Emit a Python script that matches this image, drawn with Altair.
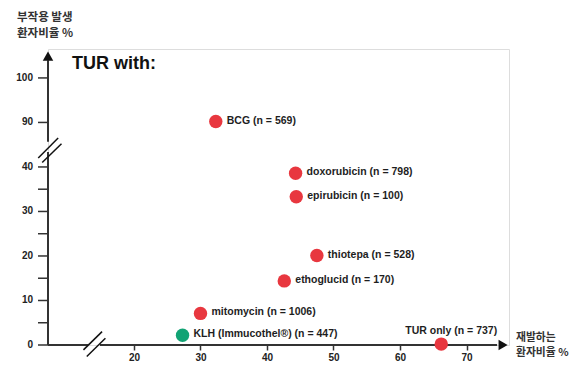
import altair as alt
import pandas as pd

# ---- data ----
treatments = [
    "BCG (n = 569)",
    "doxorubicin (n = 798)",
    "epirubicin (n = 100)",
    "thiotepa (n = 528)",
    "ethoglucid (n = 170)",
    "mitomycin (n = 1006)",
    "KLH (Immucothel®) (n = 447)",
    "TUR only (n = 737)",
]
recurrence_pct = [32.3, 44.3, 44.4, 47.5, 42.6, 30.0, 27.3, 66.2]
adverse_pct = [90.2, 38.6, 33.3, 20.1, 14.4, 7.1, 2.2, 0.2]
groups = ["other", "other", "other", "other", "other", "other", "KLH", "TUR only"]

x_ticks = [20, 30, 40, 50, 60, 70]
y_ticks = [0, 5, 10, 15, 20, 25, 30, 35, 40, 90, 100]
y_tick_labels = ["0", "", "10", "", "20", "", "30", "", "40", "90", "100"]
Y_GAP = 40  # broken y axis: values >= 90 are shifted down by this amount

# ---- scales ----
X_MIN, X_MAX = 7.07, 76.39
Y_MIN, Y_MAX = 0.0, 66.5
W, H = 461, 296

def disp_y(v):
    return v - Y_GAP if v >= 90 else v

df = pd.DataFrame({
    "treatment": treatments,
    "x": recurrence_pct,
    "y": [disp_y(v) for v in adverse_pct],
    "adverse": adverse_pct,
    "group": groups,
})
ytick_df = pd.DataFrame({
    "value": y_ticks,
    "y": [disp_y(v) for v in y_ticks],
    "label": y_tick_labels,
})

xs = alt.Scale(domain=[X_MIN, X_MAX], nice=False, zero=False)
ys = alt.Scale(domain=[Y_MIN, Y_MAX], nice=False, zero=False)

AX = "#333333"
FONT = "Liberation Sans"
KFONT = "Noto Sans CJK KR"

x_axis = alt.Axis(values=x_ticks, domain=False, grid=False, tickSize=5, tickColor=AX,
                  tickWidth=1.5, labelFont=FONT, labelFontWeight="bold", labelFontSize=10,
                  labelColor="#222222", labelPadding=2, labelOverlap=False, title=None)

# axis lines with breaks
axis_lines = pd.DataFrame({
    "x": [X_MIN, 14.89, X_MIN, X_MIN],
    "x2": [13.08, 74.6, X_MIN, X_MIN],
    "y": [0, 0, 0, 45.69],
    "y2": [0, 0, 43.37, 64.0],
})
lines = alt.Chart(axis_lines).mark_rule(color=AX, strokeWidth=2).encode(
    x=alt.X("x:Q", scale=xs, axis=x_axis), x2="x2",
    y=alt.Y("y:Q", scale=ys, axis=None), y2="y2"
)

# y ticks and labels
yticks = alt.Chart(ytick_df).mark_rule(color=AX, strokeWidth=1.5).encode(
    x=alt.value(-10), x2=alt.value(0), y=alt.Y("y:Q", scale=ys)
)
ylabels = alt.Chart(ytick_df).mark_text(
    align="right", baseline="middle", font=FONT, fontWeight="bold", fontSize=10, color="#222222"
).encode(x=alt.value(-15), y=alt.Y("y:Q", scale=ys), text="label:N")

# break slashes
slashes = pd.DataFrame({
    "x": [5.6, 6.2, 12.4, 12.9],
    "x2": [8.6, 9.1, 15.2, 15.7],
    "y": [42.0, 41.0, -1.1, -2.6],
    "y2": [46.5, 45.2, 3.0, 1.5],
})
slash = alt.Chart(slashes).mark_rule(color="#111111", strokeWidth=1.5).encode(
    x=alt.X("x:Q", scale=xs), x2="x2", y=alt.Y("y:Q", scale=ys), y2="y2"
)

arrow_up = alt.Chart(pd.DataFrame({"x": [X_MIN], "y": [64.9]})).mark_point(
    shape="triangle-up", filled=True, size=110, color="#111111", opacity=1
).encode(x=alt.X("x:Q", scale=xs), y=alt.Y("y:Q", scale=ys))
arrow_right = alt.Chart(pd.DataFrame({"x": [75.5], "y": [0]})).mark_point(
    shape="triangle-right", filled=True, size=110, color="#111111", opacity=1
).encode(x=alt.X("x:Q", scale=xs), y=alt.Y("y:Q", scale=ys))

points = alt.Chart(df).mark_circle(size=180, opacity=1).encode(
    x=alt.X("x:Q", scale=xs),
    y=alt.Y("y:Q", scale=ys),
    color=alt.Color("group:N", scale=alt.Scale(domain=["other", "KLH", "TUR only"],
                                               range=["#e8373f", "#12a374", "#e8373f"]),
                    legend=None),
)

labels = alt.Chart(df).transform_filter("datum.group != 'TUR only'").mark_text(
    align="left", baseline="middle", dx=11, dy=-1, font=FONT, fontWeight="bold",
    fontSize=10.5, color="#1e1e1e"
).encode(x=alt.X("x:Q", scale=xs), y=alt.Y("y:Q", scale=ys), text="treatment:N")

label_tur = alt.Chart(df).transform_filter("datum.group == 'TUR only'").mark_text(
    align="center", baseline="middle", dx=10, dy=-13, font=FONT, fontWeight="bold",
    fontSize=10.5, color="#1e1e1e"
).encode(x=alt.X("x:Q", scale=xs), y=alt.Y("y:Q", scale=ys), text="treatment:N")

one = pd.DataFrame({"k": [0]})
title = alt.Chart(one).mark_text(
    align="left", baseline="alphabetic", font=FONT, fontWeight="bold", fontSize=18, color="#111111"
).encode(x=alt.value(24), y=alt.value(19.5), text=alt.value("TUR with:"))

y_title = alt.Chart(one).mark_text(
    align="left", baseline="top", font=KFONT, fontWeight="bold", fontSize=11.5,
    lineHeight=16, lineBreak="\n", color="#333333"
).encode(x=alt.value(-31), y=alt.value(-37), text=alt.value("부작용 발생\n환자비율 %"))

x_title = alt.Chart(one).mark_text(
    align="left", baseline="top", font=KFONT, fontWeight="bold", fontSize=10.8,
    lineHeight=15, lineBreak="\n", color="#333333"
).encode(x=alt.value(468), y=alt.value(283), text=alt.value("재발하는\n환자비율 %"))

chart = alt.layer(
    lines, yticks, ylabels, slash, arrow_up, arrow_right, points, labels, label_tur,
    title, y_title, x_title
).properties(
    width=W, height=H,
    autosize=alt.AutoSizeParams(type="none"),
    padding={"left": 40, "top": 41, "right": 62, "bottom": 25},
).configure_view(stroke=None).configure(background="white")

chart.save("out.html", embed_options={"renderer": "svg", "actions": False})
